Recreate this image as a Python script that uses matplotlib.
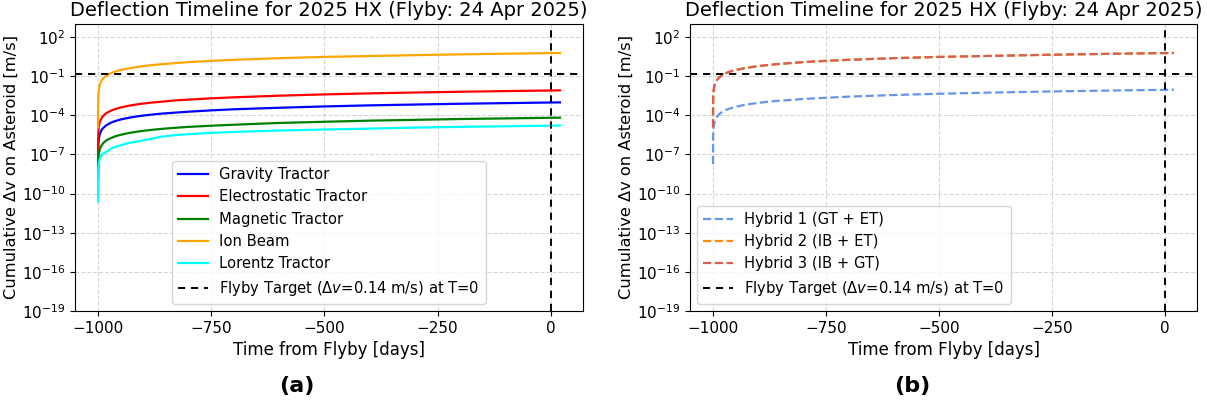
import matplotlib
matplotlib.use("Agg")
import matplotlib.pyplot as plt

# ---------------- data ----------------
time_days = [-999.998, -999.99, -999.95, -999.8, -999.5, -999, -998, -996, -993, -990,
             -985, -980, -970, -960, -950, -935, -920, -900, -880, -860,
             -830, -800, -750, -700, -600, -500, -400, -300, -200, -100, 0, 20]

gravity_tractor = [1.9e-9, 9.6e-9, 4.8e-8, 1.9e-7, 4.8e-7, 9.6e-7, 1.9e-6, 3.8e-6, 6.7e-6, 9.6e-6,
                   1.4e-5, 1.9e-5, 2.9e-5, 3.8e-5, 4.8e-5, 6.2e-5, 7.7e-5, 9.6e-5, 1.15e-4, 1.35e-4,
                   1.6e-4, 1.9e-4, 2.4e-4, 2.9e-4, 3.8e-4, 4.8e-4, 5.8e-4, 6.7e-4, 7.7e-4, 8.6e-4, 9.6e-4, 9.8e-4]
electrostatic_tractor = [1.6e-8, 8e-8, 4e-7, 1.6e-6, 4e-6, 8e-6, 1.6e-5, 3.2e-5, 5.6e-5, 8e-5,
                         1.2e-4, 1.6e-4, 2.4e-4, 3.2e-4, 4e-4, 5.2e-4, 6.4e-4, 8e-4, 9.6e-4, 1.1e-3,
                         1.4e-3, 1.6e-3, 2.0e-3, 2.4e-3, 3.2e-3, 4.0e-3, 4.8e-3, 5.6e-3, 6.4e-3, 7.2e-3, 8.0e-3, 8.2e-3]
magnetic_tractor = [1.3e-10, 6.5e-10, 3.2e-9, 1.3e-8, 3.2e-8, 6.5e-8, 1.3e-7, 2.6e-7, 4.5e-7, 6.5e-7,
                    9.7e-7, 1.3e-6, 1.9e-6, 2.6e-6, 3.2e-6, 4.2e-6, 5.2e-6, 6.5e-6, 7.8e-6, 9.1e-6,
                    1.1e-5, 1.3e-5, 1.6e-5, 1.9e-5, 2.6e-5, 3.2e-5, 3.9e-5, 4.5e-5, 5.2e-5, 5.8e-5, 6.5e-5, 6.6e-5]
ion_beam = [1.2e-5, 6e-5, 3e-4, 1.2e-3, 3e-3, 5.9e-3, 1.2e-2, 2.4e-2, 4.1e-2, 5.9e-2,
            8.9e-2, 0.12, 0.18, 0.24, 0.30, 0.38, 0.47, 0.59, 0.71, 0.83,
            1.0, 1.2, 1.5, 1.8, 2.4, 3.0, 3.5, 4.1, 4.7, 5.3, 5.9, 6.0]
lorentz_tractor = [2.5e-11, 1.3e-10, 6e-10, 2.4e-9, 6e-9, 1.2e-8, 2.4e-8, 4.8e-8, 8.5e-8, 1.15e-7,
                   1.35e-7, 1.75e-7, 3.0e-7, 4.0e-7, 5.0e-7, 7.2e-7, 9.0e-7, 1.2e-6, 1.65e-6, 2.3e-6,
                   3.0e-6, 3.6e-6, 4.5e-6, 5.3e-6, 6.8e-6, 8.2e-6, 9.6e-6, 1.15e-5, 1.3e-5, 1.45e-5, 1.6e-5, 1.65e-5]

hybrid1_gt_et = [1.8e-8, 9e-8, 4.5e-7, 1.8e-6, 4.5e-6, 9e-6, 1.8e-5, 3.6e-5, 6.3e-5, 9e-5,
                 1.35e-4, 1.8e-4, 2.7e-4, 3.6e-4, 4.5e-4, 5.8e-4, 7.2e-4, 9e-4, 1.08e-3, 1.26e-3,
                 1.5e-3, 1.8e-3, 2.2e-3, 2.7e-3, 3.6e-3, 4.5e-3, 5.4e-3, 6.3e-3, 7.2e-3, 8.1e-3, 9.0e-3, 9.2e-3]
hybrid2_ib_et = [1.2e-5, 6e-5, 3e-4, 1.2e-3, 3e-3, 5.9e-3, 1.2e-2, 2.4e-2, 4.1e-2, 5.9e-2,
                 8.9e-2, 0.12, 0.18, 0.24, 0.30, 0.38, 0.47, 0.59, 0.71, 0.83,
                 1.0, 1.2, 1.5, 1.8, 2.4, 3.0, 3.5, 4.1, 4.7, 5.3, 5.9, 6.0]
hybrid3_ib_gt = [1.2e-5, 6e-5, 3e-4, 1.2e-3, 3e-3, 5.9e-3, 1.2e-2, 2.4e-2, 4.1e-2, 5.9e-2,
                 8.9e-2, 0.12, 0.18, 0.24, 0.30, 0.38, 0.47, 0.59, 0.71, 0.83,
                 1.0, 1.2, 1.5, 1.8, 2.4, 3.0, 3.5, 4.1, 4.7, 5.3, 5.9, 6.0]

target_dv = 0.14
flyby_t = 0

method_labels = ["Gravity Tractor", "Electrostatic Tractor", "Magnetic Tractor", "Ion Beam", "Lorentz Tractor"]
hybrid_labels = ["Hybrid 1 (GT + ET)", "Hybrid 2 (IB + ET)", "Hybrid 3 (IB + GT)"]
target_label = r"Flyby Target ($\Delta v$=0.14 m/s) at T=0"
title = "Deflection Timeline for 2025 HX (Flyby: 24 Apr 2025)"
xlabel = "Time from Flyby [days]"
ylabel = "Cumulative Δv on Asteroid [m/s]"
yticks = [1e2, 1e-1, 1e-4, 1e-7, 1e-10, 1e-13, 1e-16, 1e-19]

# ---------------- figure ----------------
W, H = 1207, 408
fig = plt.figure(figsize=(W / 100, H / 100), dpi=100)
ax1 = fig.add_axes([75 / W, 1 - 311 / H, 508 / W, 287 / H])
ax2 = fig.add_axes([690 / W, 1 - 311 / H, 507 / W, 287 / H])

method_series = [gravity_tractor, electrostatic_tractor, magnetic_tractor, ion_beam, lorentz_tractor]
method_colors = ["blue", "red", "green", "orange", "cyan"]
for vals, c, lab in zip(method_series, method_colors, method_labels):
    ax1.plot(time_days, vals, color=c, lw=1.6, label=lab)

hyb_series = [hybrid1_gt_et, hybrid2_ib_et, hybrid3_ib_gt]
hyb_colors = ["cornflowerblue", "darkorange", "#d65f4f"]
for vals, c, lab in zip(hyb_series, hyb_colors, hybrid_labels):
    ax2.plot(time_days, vals, color=c, lw=1.6, ls="--", label=lab)

for ax in (ax1, ax2):
    ax.set_yscale("log")
    ax.axhline(target_dv, color="black", ls=(0, (3.7, 3.0)), lw=1.4, label=target_label)
    ax.axvline(flyby_t, color="black", ls=(0, (3.7, 3.0)), lw=1.4)
    ax.set_ylim(1e-19, 1e3)
    ax.set_yticks(yticks)
    ax.yaxis.set_minor_locator(matplotlib.ticker.NullLocator())
    ax.set_xticks([-1000, -750, -500, -250, 0])
    ax.tick_params(labelsize=11)
    ax.grid(True, ls="--", color="#cccccc", lw=0.8, alpha=0.8)
    ax.set_title(title, fontsize=14)
    ax.set_xlabel(xlabel, fontsize=12)
    ax.set_ylabel(ylabel, fontsize=11.7, labelpad=2)

ax1.legend(loc="lower center", fontsize=10.6)
ax2.legend(loc="lower left", fontsize=10.6)

fig.text(297 / W, 1 - 386 / H, "(a)", fontsize=16, fontweight="bold", ha="center", va="center")
fig.text(912 / W, 1 - 386 / H, "(b)", fontsize=16, fontweight="bold", ha="center", va="center")

fig.savefig("out.png", dpi=100)
